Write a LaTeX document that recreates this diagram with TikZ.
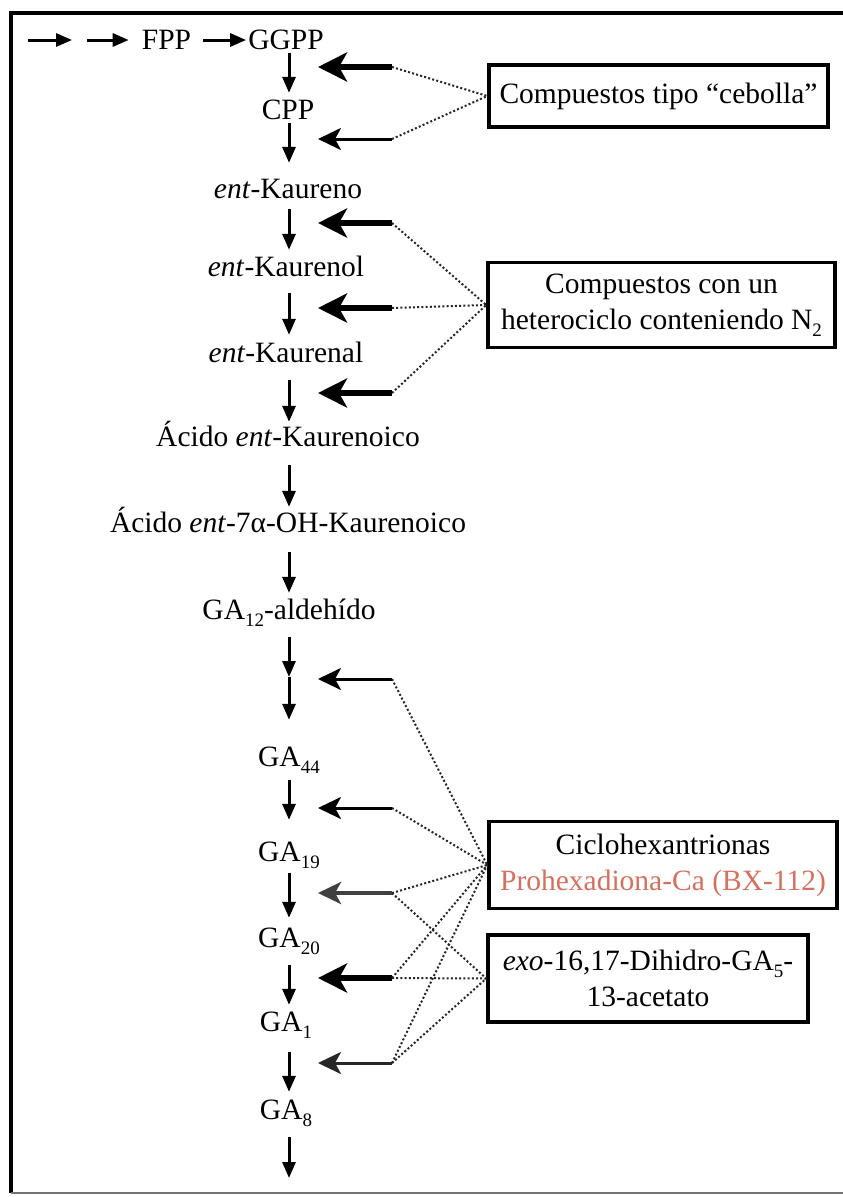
\documentclass[tikz,border=0pt]{standalone}
\usepackage{fontspec}
\setmainfont{Liberation Serif}
\usetikzlibrary{arrows.meta}
\definecolor{salmon}{RGB}{214,112,94}
\newcommand\sbs[1]{\raisebox{-0.24em}{\fontsize{19}{19}\selectfont #1}}
\begin{document}
\begin{tikzpicture}[x=1pt,y=-1pt,font=\fontsize{29.5}{36}\selectfont,
  lbl/.style={inner sep=0pt, text height=19pt, text depth=0pt, anchor=center},
  va/.style={line width=3pt, -{Triangle[length=16pt,width=13pt]}},
  thickarr/.style={line width=5.5pt, -{Stealth[length=29pt,width=29pt,inset=8pt]}},
  thinarr/.style={line width=3pt, -{Stealth[length=23pt,width=22pt,inset=6pt]}},
  dotl/.style={line width=2pt, dash pattern=on 2pt off 2.2pt, black!85},
  boxn/.style={draw, line width=3.5pt, align=center, inner sep=0pt}]
\useasboundingbox (0,0) rectangle (843,1197);
\fill[white] (0,0) rectangle (843,1197);
% frame
\draw[line width=4pt] (843,12.5) -- (10.5,12.5) -- (10.5,1193);
\draw[line width=2pt, black!55] (10.5,1193) -- (843,1193);

% pathway column
\node[lbl] (FPP)  at (166.5,40) {FPP};
\node[lbl] (GGPP) at (286,40) {GGPP};
\node[lbl] (CPP)  at (288,110) {CPP};
\node[lbl] (kno)  at (288,189) {\textit{ent}-Kaureno};
\node[lbl] (knol) at (286,267) {\textit{ent}-Kaurenol};
\node[lbl] (knal) at (286,353) {\textit{ent}-Kaurenal};
\node[lbl] (ac1)  at (288,437) {Ácido \textit{ent}-Kaurenoico};
\node[lbl] (ac2)  at (288,523) {Ácido \textit{ent}-7α-OH-Kaurenoico};
\node[lbl] (ga12) at (289,610) {GA\sbs{12}-aldehído};
\node[lbl] (ga44) at (289,757) {GA\sbs{44}};
\node[lbl] (ga19) at (289,852) {GA\sbs{19}};
\node[lbl] (ga20) at (289,938) {GA\sbs{20}};
\node[lbl] (ga1)  at (286,1022) {GA\sbs{1}};
\node[lbl] (ga8)  at (286,1110) {GA\sbs{8}};
\coordinate (s0) at (28,40);
\coordinate (s1) at (72,40);
\coordinate (s2) at (87,40);
\coordinate (mid) at (289,677);
\coordinate (endc) at (289,1178);

% top row arrows
\draw[va] (s0) -- (s1);
\draw[va, shorten >=13pt] (s2) -- (FPP.west);
\draw[va, shorten <=12pt, shorten >=2pt] (FPP.east) -- (GGPP.west);

% vertical arrows
\draw[va, shorten <=3.5pt, shorten >=7.5pt] (GGPP.south -| 289,0) -- (CPP.north -| 289,0);
\draw[va, shorten <=3.5pt, shorten >=16.5pt] (CPP.south -| 289,0) -- (kno.north -| 289,0);
\draw[va, shorten <=10.5pt, shorten >=7.5pt] (kno.south -| 289,0) -- (knol.north -| 289,0);
\draw[va, shorten <=16.5pt, shorten >=8.5pt] (knol.south -| 289,0) -- (knal.north -| 289,0);
\draw[va, shorten <=17.5pt, shorten >=5.5pt] (knal.south -| 289,0) -- (ac1.north -| 289,0);
\draw[va, shorten <=18.5pt, shorten >=6.5pt] (ac1.south -| 289,0) -- (ac2.north -| 289,0);
\draw[va, shorten <=19.5pt, shorten >=7.5pt] (ac2.south -| 289,0) -- (ga12.north -| 289,0);
\draw[va, shorten <=17.5pt] (ga12.south -| 289,0) -- (mid);
\draw[va, shorten >=27.5pt] (mid) -- (ga44.north -| 289,0);
\draw[va, shorten <=13.5pt, shorten >=22.5pt] (ga44.south -| 289,0) -- (ga19.north -| 289,0);
\draw[va, shorten <=11pt, shorten >=10.5pt] (ga19.south -| 289,0) -- (ga20.north -| 289,0);
\draw[va, shorten <=17.5pt, shorten >=7.5pt] (ga20.south -| 289,0) -- (ga1.north -| 289,0);
\draw[va, shorten <=20.5pt, shorten >=8.5pt] (ga1.south -| 289,0) -- (ga8.north -| 289,0);
\draw[va, shorten <=17.5pt] (ga8.south -| 289,0) -- (endc);

% inhibitor boxes
\node[boxn, minimum width=339pt, minimum height=62pt] (b1) at (658.5,96)
  {Compuestos tipo “cebolla”};
\node[boxn, minimum width=347pt, minimum height=85pt] (b2) at (661.5,305)
  {Compuestos con un\\heterociclo conteniendo N\sbs{2}};
\node[boxn, minimum width=348pt, minimum height=87pt] (b3) at (663,865)
  {Ciclohexantrionas\\\textcolor{salmon}{Prohexadiona-Ca (BX-112)}};
\node[boxn, minimum width=320pt, minimum height=87pt] (b4) at (648,978.5)
  {\textit{exo}-16,17-Dihidro-GA\sbs{5}-\\13-acetato};

% inhibition arrows (tip / tail)
\foreach \n/\y in {1/67,2/139,3/223,4/308,5/393,6/679,7/808,8/893,9/978,10/1063}{
  \coordinate (h\n) at (318,\y);
  \coordinate (t\n) at (392,\y);
}
\draw[thickarr] (t1) -- (h1);
\draw[thinarr] (t2) -- (h2);
\draw[thickarr] (t3) -- (h3);
\draw[thickarr] (t4) -- (h4);
\draw[thickarr] (t5) -- (h5);
\draw[thinarr] (t6) -- (h6);
\draw[thinarr] (t7) -- (h7);
\draw[thinarr, line width=4pt, black!75] (t8) -- (h8);
\draw[thickarr] (t9) -- (h9);
\draw[thinarr, black!85] (t10) -- (h10);

% dotted links
\draw[dotl] (t1) -- (b1.west);
\draw[dotl] (t2) -- (b1.west);
\draw[dotl] (t3) -- (b2.west);
\draw[dotl] (t4) -- (b2.west);
\draw[dotl] (t5) -- (b2.west);
\foreach \n in {6,7,8,9,10} \draw[dotl] (t\n) -- (b3.west);
\foreach \n in {8,9,10} \draw[dotl] (t\n) -- (b4.west);
\end{tikzpicture}
\end{document}
